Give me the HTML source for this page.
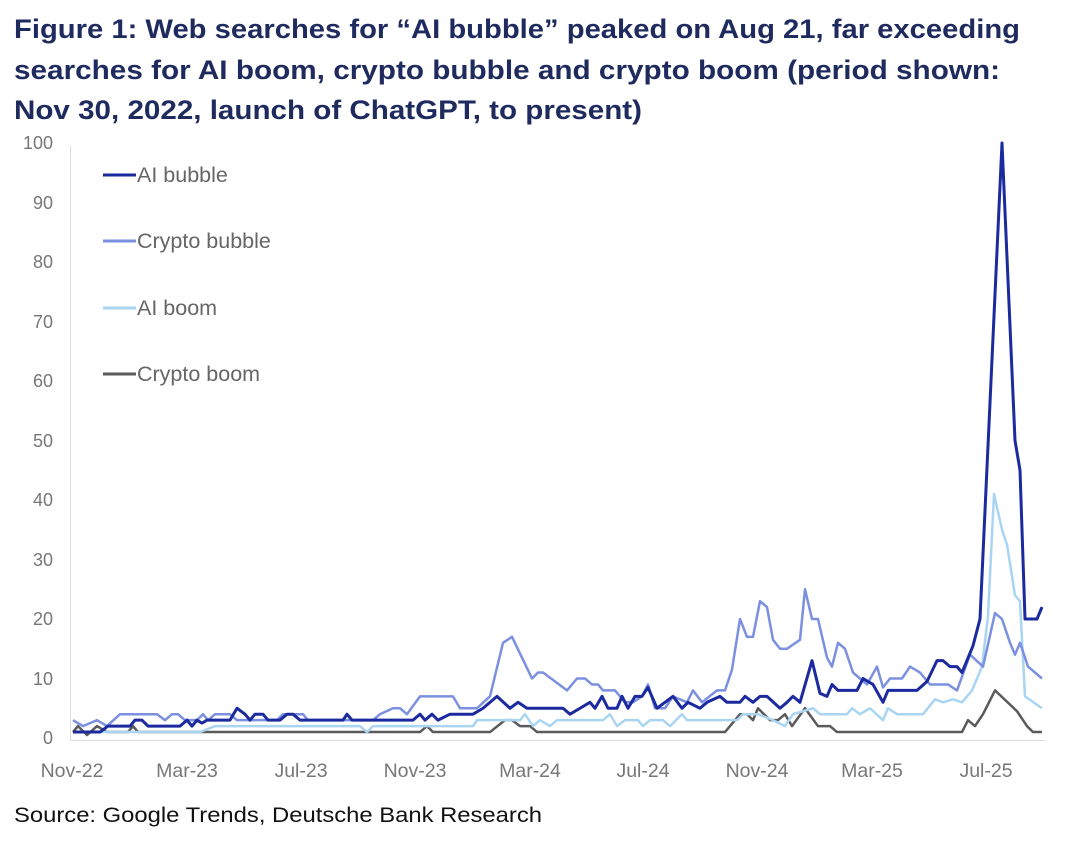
<!DOCTYPE html>
<html><head><meta charset="utf-8"><style>
html,body{margin:0;padding:0;background:#fff;}
svg{display:block;}
</style></head><body>
<svg width="1080" height="843" viewBox="0 0 1080 843" xmlns="http://www.w3.org/2000/svg" font-family="Liberation Sans, sans-serif">
<g fill="#1f2b5e" font-weight="bold" font-size="27">
<text x="14" y="38" textLength="1006" lengthAdjust="spacingAndGlyphs">Figure 1: Web searches for “AI bubble” peaked on Aug 21, far exceeding</text>
<text x="14" y="79" textLength="986" lengthAdjust="spacingAndGlyphs">searches for AI boom, crypto bubble and crypto boom (period shown:</text>
<text x="14" y="119" textLength="628" lengthAdjust="spacingAndGlyphs">Nov 30, 2022, launch of ChatGPT, to present)</text>
</g>
<g fill="#777" font-size="18" text-anchor="end">
<text x="53" y="149">100</text><text x="53" y="209">90</text><text x="53" y="268">80</text><text x="53" y="328">70</text><text x="53" y="387">60</text><text x="53" y="447">50</text><text x="53" y="506">40</text><text x="53" y="566">30</text><text x="53" y="625">20</text><text x="53" y="685">10</text><text x="53" y="744">0</text>
</g>
<line x1="70.5" y1="146" x2="70.5" y2="740" stroke="#ddd" stroke-width="1"/>
<line x1="70" y1="740.5" x2="1045" y2="740.5" stroke="#ddd" stroke-width="1"/>
<g fill="#777" font-size="19.5" text-anchor="middle">
<text x="72" y="777">Nov-22</text><text x="187" y="777">Mar-23</text><text x="301" y="777">Jul-23</text><text x="415" y="777">Nov-23</text><text x="530" y="777">Mar-24</text><text x="643" y="777">Jul-24</text><text x="757" y="777">Nov-24</text><text x="872" y="777">Mar-25</text><text x="986" y="777">Jul-25</text>
</g>
<g fill="none" stroke-linejoin="round" transform="translate(0,738) scale(1,-5.95)">
<polyline vector-effect="non-scaling-stroke" stroke="#5a5a5a" stroke-width="2.5" points="73,1 78,2 87,0.5 97,2 107,1 128,1 133,2 138,1 420,1 427,2 433,1 490,1 505,3 512,3 520,2 530,2 537,1 725,1 740,4 747,4 753,3 758,5 770,3 778,3 785,4 792,2 805,5 818,2 830,2 837,1 962,1 968,3 975,2 983,4 995,8 1017,4.5 1027,2 1033,1 1042,1"/>
<polyline vector-effect="non-scaling-stroke" stroke="#a9d5f3" stroke-width="2.5" points="73,1 200,1 215,2 360,2 367,1 373,2 473,2 477,3 520,3 525,4 533,2 540,3 550,2 557,3 603,3 610,4 617,2 625,3 638,3 643,2 650,3 663,3 670,2 682,4 687,3 737,3 743,4 758,4 773,3 785,2 793,4 813,5 820,4 847,4 852,5 860,4 870,5 883,3 888,5 897,4 923,4 935,6.5 943,6 953,6.5 962,6 972,8 982,12 988,20.5 994,41 1002,35 1007,32.5 1015,24 1020,23 1025,7 1042,5"/>
<polyline vector-effect="non-scaling-stroke" stroke="#7b90e0" stroke-width="2.5" points="73,3 83,2 97,3 107,2 120,4 157,4 165,3 172,4 178,4 185,3 197,3 203,4 208,3 215,4 230,4 237,3 277,3 283,4 303,4 308,3 373,3 380,4 393,5 400,5 407,4 420,7 453,7 460,5 477,5 490,7 503,16 512,17 522,13.5 532,10 538,11 543,11 567,8 577,10 585,10 592,9 598,9 603,8 615,8 625,6 633,6 642,7 648,9 655,5 665,5 673,7 687,6 693,8 702,6 717,8 725,8 732,11.5 740,20 747,17 753,17 760,23 767,22 773,16.5 780,15 787,15 800,16.5 805,25 812,20 818,20 827,13.5 832,12 838,16 845,15 853,11 860,10 867,9 877,12 883,8.5 890,10 902,10 910,12 920,11 930,9 948,9 957,8 970,14 983,12 995,21 1002,20 1010,16 1015,14 1020,16 1028,12 1042,10"/>
<polyline vector-effect="non-scaling-stroke" stroke="#1b2a9e" stroke-width="3" points="73,1 100,1 108,2 130,2 135,3 142,3 148,2 180,2 187,3 192,2 197,3 202,2.5 207,3 230,3 237,5 245,4 250,3 255,4 263,4 268,3 280,3 287,4 293,4 300,3 343,3 347,4 352,3 413,3 420,4 425,3 432,4 438,3 450,4 473,4 483,5 497,7 510,5 518,6 527,5 563,5 570,4 580,5 590,6 595,5 602,7 608,5 617,5 622,7 628,5 635,7 642,7 648,8.5 657,5 665,6 673,7 682,5 688,6 700,5 707,6 720,7 727,6 740,6 745,7 753,6 760,7 767,7 780,5 787,6 793,7 800,6 812,13 820,7.5 827,7 832,9 838,8 857,8 863,10 873,9 883,6 888,8 917,8 927,9.5 937,13 943,13 950,12 957,12 962,11 973,15.5 980,20 1002,100 1015,50 1020,45 1025,20 1037,20 1042,22"/>
</g>
<g stroke-width="3">
<line x1="103" y1="175" x2="136" y2="175" stroke="#1b2a9e"/>
<line x1="103" y1="241" x2="136" y2="241" stroke="#7b90e0"/>
<line x1="103" y1="308" x2="136" y2="308" stroke="#a9d5f3"/>
<line x1="103" y1="374" x2="136" y2="374" stroke="#5a5a5a"/>
</g>
<g fill="#666" font-size="21.5">
<text x="137" y="182">AI bubble</text>
<text x="137" y="248">Crypto bubble</text>
<text x="137" y="315">AI boom</text>
<text x="137" y="381">Crypto boom</text>
</g>
<text x="14" y="822" fill="#111" font-size="21" textLength="528" lengthAdjust="spacingAndGlyphs">Source: Google Trends, Deutsche Bank Research</text>
</svg>
</body></html>
